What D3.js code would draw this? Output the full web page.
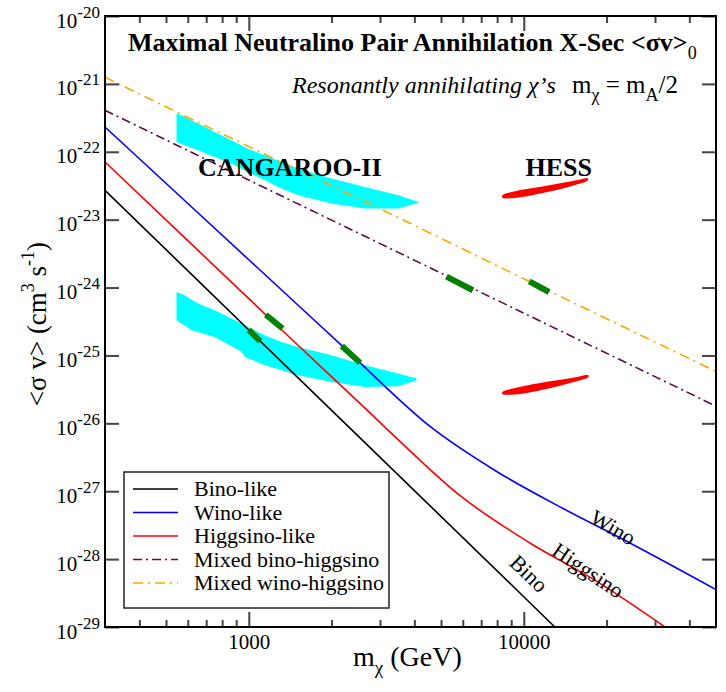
<!DOCTYPE html>
<html>
<head>
<meta charset="utf-8">
<script src="https://cdn.jsdelivr.net/npm/d3@7/dist/d3.min.js"></script>
<style>
  body { margin: 0; background: #fff; }
  svg { display: block; font-family: "Liberation Serif", "Times New Roman", serif; }
</style>
</head>
<body>
<svg id="chart" width="726" height="692"></svg>
<script>
// curves: [mass (GeV), <sigma v> (cm^3 s^-1)]
var binoLike = [[300, 2.71e-23], [1000, 2.37e-25], [10000, 2.79e-29], [12970, 1e-29]];
var winoLike = [[300, 2.32e-22], [1000, 2.57e-24], [2175, 1.41e-25], [4550, 9.06e-27], [7940, 1.97e-27],
                [13900, 5.56e-28], [24320, 1.73e-28], [50000, 3.56e-29]];
var higgsinoLike = [[300, 7.08e-23], [1000, 6.87e-25], [1534, 1.33e-25], [2600, 1.79e-26], [3436, 6.10e-27],
                    [6011, 7.96e-28], [10520, 1.73e-28], [18370, 4.73e-29], [32600, 1.0e-29]];
var mixedBinoHiggsino = [[300, 4.08e-22], [1000, 3.83e-23], [10000, 4.2e-25], [50000, 1.79e-26]];
var mixedWinoHiggsino = [[300, 1.25e-21], [1000, 1.19e-22], [2667, 1.82e-23], [10000, 1.35e-24], [50000, 5.8e-26]];

// green segments on the curves
var greenSegments = [
  [[1000, 2.37e-25], [1100, 1.63e-25]],
  [[1153, 3.98e-25], [1327, 2.49e-25]],
  [[2180, 1.38e-25], [2540, 7.76e-26]],
  [[5232, 1.45e-24], [6532, 9.12e-25]],
  [[10470, 1.23e-24], [12355, 8.6e-25]]
];

// CANGAROO-II regions (upper and lower edge)
var cangarooUpperTop = [[546, 3.66e-22], [569, 3.45e-22], [654, 2.60e-22], [752, 1.96e-22], [865, 1.48e-22],
  [994, 1.11e-22], [1144, 8.87e-23], [1315, 7.08e-23], [1512, 5.66e-23], [2000, 4.03e-23], [2644, 3.03e-23],
  [3496, 2.29e-23], [4133, 1.82e-23]];
var cangarooUpperBottom = [[546, 1.39e-22], [585, 1.25e-22], [654, 1.05e-22], [752, 8.37e-23], [865, 6.70e-23],
  [994, 5.05e-23], [1144, 3.80e-23], [1315, 2.87e-23], [1512, 2.29e-23], [2000, 1.73e-23], [2644, 1.46e-23],
  [3496, 1.46e-23], [4133, 1.76e-23]];
var cangarooLowerTop = [[546, 8.61e-25], [585, 7.70e-25], [654, 5.81e-25], [752, 4.63e-25], [865, 3.49e-25],
  [994, 2.63e-25], [1144, 1.98e-25], [1315, 1.58e-25], [1512, 1.33e-25], [2000, 1.01e-25], [2644, 7.18e-26],
  [3496, 5.41e-26], [4078, 4.57e-26]];
var cangarooLowerBottom = [[546, 3.30e-25], [619, 2.35e-25], [752, 1.87e-25], [941, 1.13e-25], [967, 9.51e-26],
  [1144, 7.18e-26], [1512, 5.12e-26], [2000, 4.07e-26], [2644, 3.44e-26], [3496, 3.52e-26], [4078, 4.31e-26]];

// HESS regions
var hessUpperTop = [[8359, 2.29e-23], [9296, 2.62e-23], [11953, 3.13e-23], [14953, 3.68e-23], [17100, 4.03e-23]];
var hessUpperBottom = [[8359, 2.11e-23], [9296, 2.09e-23], [11953, 2.51e-23], [14953, 3.13e-23], [17100, 3.80e-23]];
var hessLowerTop = [[8359, 2.90e-26], [9296, 3.32e-26], [11953, 4.07e-26], [14953, 4.67e-26], [17184, 5.11e-26]];
var hessLowerBottom = [[8359, 2.71e-26], [9296, 2.65e-26], [11953, 3.18e-26], [14953, 3.99e-26], [17184, 4.82e-26]];

var legendLabels = ['Bino-like', 'Wino-like', 'Higgsino-like', 'Mixed bino-higgsino', 'Mixed wino-higgsino'];
var xMajorTicks = [1000, 10000];
var xMinorTicks = [400, 500, 600, 700, 800, 900, 2000, 3000, 4000, 5000, 6000, 7000, 8000, 9000, 20000, 30000, 40000];
var yTicks = [1e-29, 1e-28, 1e-27, 1e-26, 1e-25, 1e-24, 1e-23, 1e-22, 1e-21, 1e-20];

var margin = {top: 16, right: 10, bottom: 65, left: 105};
var svg = d3.select('#chart');
var W = +svg.attr('width') - margin.left - margin.right;
var H = +svg.attr('height') - margin.top - margin.bottom;
var g = svg.append('g').attr('transform', 'translate(' + margin.left + ',' + margin.top + ')');

var x = d3.scaleLog().domain([300, 50000]).range([0, W]);
var y = d3.scaleLog().domain([1e-29, 1e-20]).range([H, 0]);

svg.append('defs').append('clipPath').attr('id', 'clip')
  .append('rect').attr('width', W).attr('height', H);
var plot = g.append('g').attr('clip-path', 'url(#clip)');

var line = d3.line().x(function(d){ return x(d[0]); }).y(function(d){ return y(d[1]); });
var smooth = d3.line().x(function(d){ return x(d[0]); }).y(function(d){ return y(d[1]); }).curve(d3.curveCatmullRom.alpha(0.5));
var blob = d3.line().x(function(d){ return x(d[0]); }).y(function(d){ return y(d[1]); }).curve(d3.curveLinearClosed);
var blobRound = d3.line().x(function(d){ return x(d[0]); }).y(function(d){ return y(d[1]); }).curve(d3.curveCatmullRomClosed);

var region = function(top, bottom){ return top.concat(bottom.slice().reverse()); };

plot.append('path').attr('d', blob(region(cangarooUpperTop, cangarooUpperBottom))).attr('fill', '#00ffff');
plot.append('path').attr('d', blob(region(cangarooLowerTop, cangarooLowerBottom))).attr('fill', '#00ffff');
plot.append('path').attr('d', blobRound(region(hessUpperTop, hessUpperBottom))).attr('fill', '#ff0000');
plot.append('path').attr('d', blobRound(region(hessLowerTop, hessLowerBottom))).attr('fill', '#ff0000');

var styles = [
  {color: '#000000', dash: null},
  {color: '#0000ff', dash: null},
  {color: '#ff0000', dash: null},
  {color: '#670748', dash: '9,4,2,4'},
  {color: '#ffa500', dash: '10,5,2,5'}
];
var series = [binoLike, winoLike, higgsinoLike, mixedBinoHiggsino, mixedWinoHiggsino];
for(var i = 0; i < series.length; i++){
  plot.append('path').attr('d', smooth(series[i]))
    .attr('fill', 'none')
    .attr('stroke', styles[i].color)
    .attr('stroke-width', 1.6)
    .attr('stroke-dasharray', styles[i].dash);
}
for(var i = 0; i < greenSegments.length; i++){
  plot.append('path').attr('d', line(greenSegments[i]))
    .attr('stroke', '#008000').attr('stroke-width', 6).attr('fill', 'none');
}

// axes
var styleTicks = function(sel){
  sel.select('.domain').remove();
  sel.selectAll('.tick line').attr('stroke', '#444').attr('stroke-width', 2);
  sel.selectAll('text').attr('font-family', '"Liberation Serif", serif').attr('fill', '#000');
};
g.append('g').attr('transform', 'translate(0,' + H + ')')
  .call(d3.axisBottom(x).tickValues(xMajorTicks).tickSize(-15).tickSizeOuter(0).tickPadding(7).tickFormat(d3.format('d')))
  .call(styleTicks).selectAll('text').attr('font-size', 21);
g.append('g').attr('transform', 'translate(0,' + H + ')')
  .call(d3.axisBottom(x).tickValues(xMinorTicks).tickSize(-7).tickSizeOuter(0).tickFormat(''))
  .call(styleTicks);
g.append('g')
  .call(d3.axisTop(x).tickValues(xMajorTicks).tickSize(-15).tickSizeOuter(0).tickFormat(''))
  .call(styleTicks);
g.append('g')
  .call(d3.axisTop(x).tickValues(xMinorTicks).tickSize(-7).tickSizeOuter(0).tickFormat(''))
  .call(styleTicks);
g.append('g').attr('transform', 'translate(' + W + ',0)')
  .call(d3.axisRight(y).tickValues(yTicks).tickSize(-14).tickSizeOuter(0).tickFormat(''))
  .call(styleTicks);
var yAxis = g.append('g')
  .call(d3.axisLeft(y).tickValues(yTicks).tickSize(-14).tickSizeOuter(0))
  .call(styleTicks);
yAxis.selectAll('.tick text').each(function(d){
  var t = d3.select(this);
  t.text(null).attr('x', -5).attr('y', 11).attr('dy', null).attr('font-size', 21);
  t.append('tspan').text('10');
  t.append('tspan').attr('dy', -10).attr('font-size', 17).text(Math.round(Math.log10(d)));
});

g.append('rect').attr('width', W).attr('height', H)
  .attr('fill', 'none').attr('stroke', '#000').attr('stroke-width', 2);

// axis titles
var xt = svg.append('text').attr('x', 353).attr('y', 666).attr('font-size', 28);
xt.append('tspan').text('m');
xt.append('tspan').attr('dy', 8).attr('font-size', 19).text('χ');
xt.append('tspan').attr('dy', -8).text(' (GeV)');

var yt = svg.append('text').attr('transform', 'translate(46,324) rotate(-90)')
  .attr('text-anchor', 'middle').attr('font-size', 27);
yt.append('tspan').text('<σ v> (cm');
yt.append('tspan').attr('dy', -12).attr('font-size', 18).text('3');
yt.append('tspan').attr('dy', 12).text(' s');
yt.append('tspan').attr('dy', -12).attr('font-size', 18).text('-1');
yt.append('tspan').attr('dy', 12).text(')');

// titles
var tt = svg.append('text').attr('x', 128).attr('y', 51).attr('font-size', 26).attr('font-weight', 'bold');
tt.append('tspan').text('Maximal Neutralino Pair Annihilation X-Sec <σv>');
tt.append('tspan').attr('dy', 8).attr('font-size', 18).attr('font-weight', 'normal').text('0');

svg.append('text').attr('x', 292).attr('y', 93).attr('font-size', 24).attr('font-style', 'italic')
  .text('Resonantly annihilating χ’s');
var st = svg.append('text').attr('x', 678).attr('y', 93).attr('font-size', 25).attr('text-anchor', 'end');
st.append('tspan').text('m');
st.append('tspan').attr('dy', 8).attr('font-size', 18).text('χ');
st.append('tspan').attr('dy', -8).text(' = m');
st.append('tspan').attr('dy', 8).attr('font-size', 18).text('A');
st.append('tspan').attr('dy', -8).text('/2');

// region labels
g.append('text').attr('x', x(654)).attr('y', y(4.36e-23)).attr('font-size', 26).attr('font-weight', 'bold').text('CANGAROO-II');
g.append('text').attr('x', x(10140)).attr('y', y(4.36e-23)).attr('font-size', 26).attr('font-weight', 'bold').text('HESS');

// curve labels
var curveLabel = function(txt, m, sv, angle){
  g.append('text').attr('transform', 'translate(' + x(m) + ',' + y(sv) + ') rotate(' + angle + ')')
    .attr('text-anchor', 'middle').attr('dy', '0.35em').attr('font-size', 22).text(txt);
};
curveLabel('Wino', 21130, 2.95e-28, 30);
curveLabel('Higgsino', 17140, 6.87e-29, 34);
curveLabel('Bino', 10450, 6.14e-29, 44);

// legend
var lg = svg.append('g').attr('transform', 'translate(124,472)');
lg.append('rect').attr('width', 265).attr('height', 136)
  .attr('fill', '#fff').attr('stroke', '#222').attr('stroke-width', 1.5);
for(var i = 0; i < legendLabels.length; i++){
  var ly = 17 + i * 23.5;
  lg.append('line').attr('x1', 9).attr('x2', 54).attr('y1', ly).attr('y2', ly)
    .attr('stroke', styles[i].color).attr('stroke-width', 1.6).attr('stroke-dasharray', styles[i].dash);
  lg.append('text').attr('x', 70).attr('y', ly + 7).attr('font-size', 22).text(legendLabels[i]);
}
</script>
</body>
</html>
